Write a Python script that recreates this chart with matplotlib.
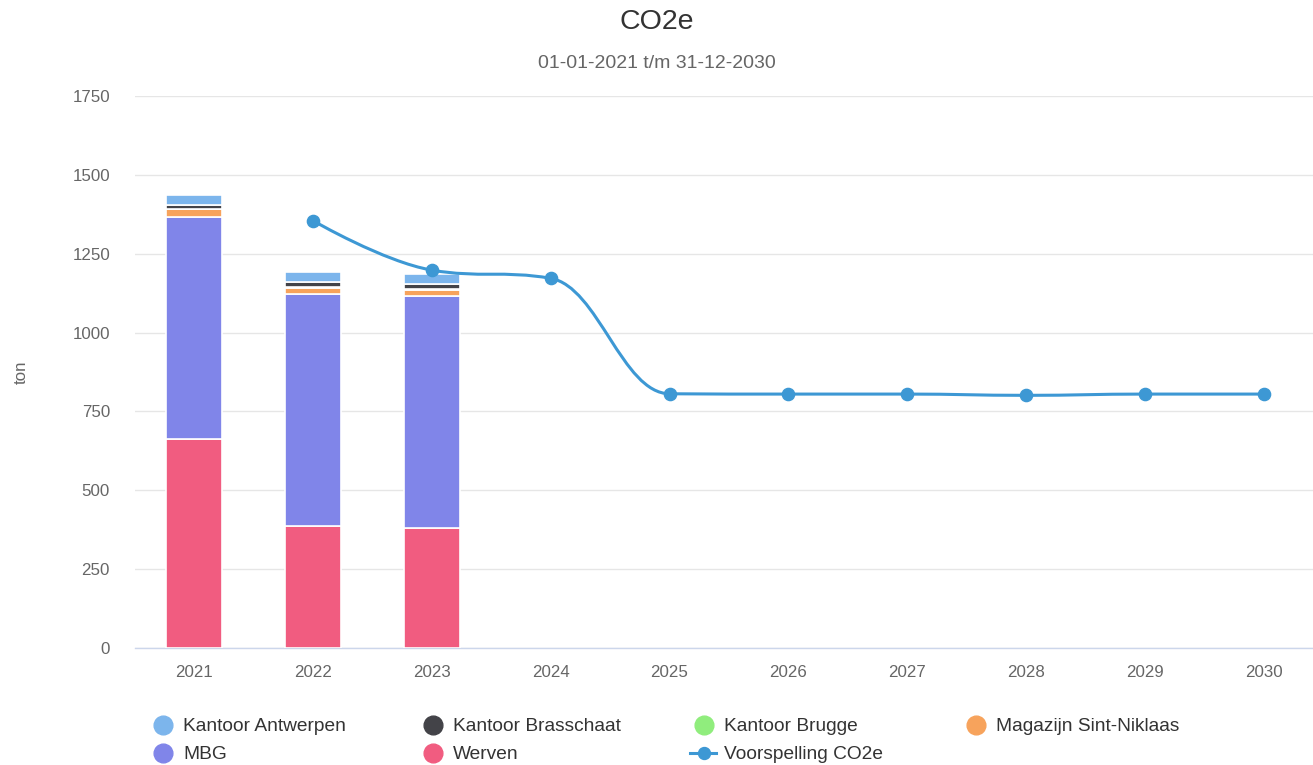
import numpy as np
import matplotlib
matplotlib.use('Agg')
import matplotlib.pyplot as plt
from matplotlib.path import Path
from matplotlib.patches import PathPatch

plt.rcParams['font.family'] = ['Liberation Sans', 'DejaVu Sans']

# data (ton CO2e)
jaren = ['2021', '2022', '2023', '2024', '2025', '2026', '2027', '2028', '2029', '2030']
werven = [662, 387, 380]
mbg = [704, 735, 735]
magazijn = [25, 20, 21]
brugge = [2, 2, 2]
brasschaat = [12, 16, 16]
antwerpen = [32, 33, 32]
voorspelling = [np.nan, 1355, 1198, 1172, 806, 805, 805, 801, 805, 805]

series = [
    ('Werven', werven, '#f15c80'),
    ('MBG', mbg, '#8085e9'),
    ('Magazijn Sint-Niklaas', magazijn, '#f7a35c'),
    ('Kantoor Brugge', brugge, '#90ed7d'),
    ('Kantoor Brasschaat', brasschaat, '#434348'),
    ('Kantoor Antwerpen', antwerpen, '#7cb5ec'),
]
lijn_kleur = '#3d98d4'


def spline_path(xs, ys):
    # zelfde soort spline als highcharts (smoothing 1.5)
    pts = [(x, y) for x, y in zip(xs, ys) if not np.isnan(y)]
    verts = [pts[0]]
    codes = [Path.MOVETO]
    right = [None] * len(pts)
    s = 1.5
    d = s + 1
    for i in range(1, len(pts)):
        px, py = pts[i]
        lx, ly = pts[i - 1]
        lcx, lcy = px, py
        if i < len(pts) - 1:
            nx, ny = pts[i + 1]
            lcx = (s * px + lx) / d
            lcy = (s * py + ly) / d
            rcx = (s * px + nx) / d
            rcy = (s * py + ny) / d
            corr = (rcy - lcy) * (rcx - px) / (rcx - lcx) + py - rcy
            lcy += corr
            rcy += corr
            if lcy > ly and lcy > py:
                lcy = max(ly, py)
                rcy = 2 * py - lcy
            elif lcy < ly and lcy < py:
                lcy = min(ly, py)
                rcy = 2 * py - lcy
            if rcy > ny and rcy > py:
                rcy = max(ny, py)
                lcy = 2 * py - rcy
            elif rcy < ny and rcy < py:
                rcy = min(ny, py)
                lcy = 2 * py - rcy
            right[i] = (rcx, rcy)
        c1 = right[i - 1] if right[i - 1] is not None else pts[i - 1]
        verts += [c1, (lcx, lcy), (px, py)]
        codes += [Path.CURVE4] * 3
    return Path(verts, codes)


W, H = 1313, 765
fig = plt.figure(figsize=(W / 100, H / 100), dpi=100)
ax = fig.add_axes([135 / W, 1 - 648 / H, (W - 135) / W, 552 / H])

x = np.arange(len(jaren))
xb = x[:len(werven)]
bottom = np.zeros(len(werven))
for naam, vals, kleur in series:
    ax.bar(xb, vals, width=0.47, bottom=bottom, color=kleur, edgecolor='white',
           linewidth=1.2, zorder=3)
    bottom += np.array(vals)

ax.add_patch(PathPatch(spline_path(x, voorspelling), fill=False, edgecolor=lijn_kleur,
                       linewidth=2.2, zorder=4, capstyle='round', joinstyle='round'))
ax.plot(x, voorspelling, 'o', color=lijn_kleur, markersize=8.8, zorder=5)

ax.set_xlim(-0.496, 9.412)
ax.set_ylim(0, 1750)
ax.set_yticks(np.arange(0, 1751, 250))
ax.set_xticks(x)
ax.set_xticklabels(jaren)
ax.grid(axis='y', color='#e6e6e6', linewidth=1, zorder=0)
ax.set_axisbelow(True)
for sp in ['top', 'right', 'left']:
    ax.spines[sp].set_visible(False)
ax.spines['bottom'].set_color('#ccd6eb')
ax.spines['bottom'].set_linewidth(1)
ax.tick_params(axis='y', length=0, pad=18, labelsize=12.2, labelcolor='#666666')
ax.tick_params(axis='x', length=0, pad=12, labelsize=12.2, labelcolor='#666666')
ax.set_ylabel('ton', fontsize=12.2, color='#666666', labelpad=0)
ax.yaxis.set_label_coords(-(135 - 29) / (W - 135), 0.5)

fig.text(0.5, 1 - 22 / H, 'CO2e', ha='center', va='center', fontsize=20.5, color='#333333')
fig.text(0.5, 1 - 63 / H, '01-01-2021 t/m 31-12-2030', ha='center', va='center',
         fontsize=14, color='#666666')

# legenda (rij voor rij zoals in highcharts)
lg = fig.add_axes([0, 0, 1, 1])
lg.set_xlim(0, W)
lg.set_ylim(H, 0)
lg.axis('off')
kleuren = {naam: kleur for naam, vals, kleur in series}
legenda = ['Kantoor Antwerpen', 'Kantoor Brasschaat', 'Kantoor Brugge',
           'Magazijn Sint-Niklaas', 'MBG', 'Werven', 'Voorspelling CO2e']
kol_x = [163, 433, 704, 976]
rij_y = [725, 753]
for i, naam in enumerate(legenda):
    cx = kol_x[i % 4]
    cy = rij_y[i // 4]
    if naam in kleuren:
        lg.plot([cx], [cy], 'o', color=kleuren[naam], markersize=13.5)
    else:
        lg.plot([cx - 14, cx + 12], [cy, cy], color=lijn_kleur, linewidth=2.2)
        lg.plot([cx], [cy], 'o', color=lijn_kleur, markersize=8.6)
    lg.text(cx + 20, cy + 1.5, naam, ha='left', va='center', fontsize=13.8, color='#333333')

fig.savefig('out.png', dpi=100)
